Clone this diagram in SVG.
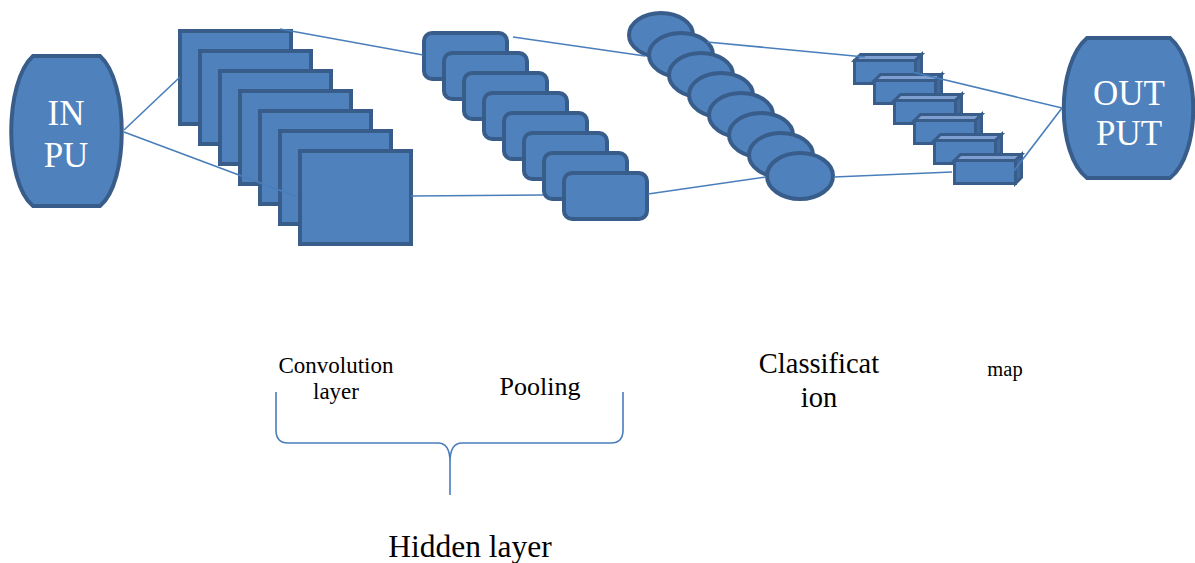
<svg xmlns="http://www.w3.org/2000/svg" width="1195" height="563" viewBox="0 0 1195 563">
<defs>
<style>
.sh{fill:#4F81BD;stroke:#385D8A;stroke-width:4}
.cube{fill:#4F81BD;stroke:#385D8A;stroke-width:3;stroke-linejoin:miter}
.top{fill:#7E9FCF;stroke:#385D8A;stroke-width:3}
.side{fill:#40699E;stroke:#385D8A;stroke-width:3}
.ln{fill:none;stroke:#4A7EBB;stroke-width:1.6}
.wt{fill:#FFFFFF;font-size:35px;text-anchor:middle}
.bt{fill:#000000;text-anchor:middle}
</style>
<g id="cb">
<rect class="cube" x="854.5" y="60.5" width="61" height="23"/>
<polygon class="top" points="854.5,60.5 860.5,54.5 921.5,54.5 915.5,60.5"/>
<polygon class="side" points="915.5,60.5 921.5,54.5 921.5,77.5 915.5,83.5"/>
</g>
</defs>
<rect width="1195" height="563" fill="#FFFFFF"/>

<g id="input">
<path class="sh" d="M33,56 H100 C129,82 129,182 100,206 H33 C4,182 4,82 33,56 Z"/>
<text class="wt" font-family="Liberation Serif, Times New Roman, serif" x="66" y="125">IN</text>
<text class="wt" font-family="Liberation Serif, Times New Roman, serif" x="66" y="167">PU</text>
</g>

<g id="convolution">
<rect class="sh" x="180" y="31" width="111" height="93"/>
<rect class="sh" x="200" y="51" width="111" height="93"/>
<rect class="sh" x="220" y="71" width="111" height="93"/>
<rect class="sh" x="240" y="91" width="111" height="93"/>
<rect class="sh" x="260" y="111" width="111" height="93"/>
<rect class="sh" x="280" y="131" width="111" height="93"/>
<rect class="sh" x="300" y="151" width="111" height="93"/>
</g>

<g id="pooling">
<rect class="sh" x="424" y="33" width="83" height="46" rx="8"/>
<rect class="sh" x="444" y="53" width="83" height="46" rx="8"/>
<rect class="sh" x="464" y="73" width="83" height="46" rx="8"/>
<rect class="sh" x="484" y="93" width="83" height="46" rx="8"/>
<rect class="sh" x="504" y="113" width="83" height="46" rx="8"/>
<rect class="sh" x="524" y="133" width="83" height="46" rx="8"/>
<rect class="sh" x="544" y="153" width="83" height="46" rx="8"/>
<rect class="sh" x="564" y="173" width="83" height="46" rx="8"/>
</g>

<g id="classification">
<ellipse class="sh" cx="661" cy="35" rx="32" ry="22"/>
<ellipse class="sh" cx="681" cy="55" rx="32" ry="22"/>
<ellipse class="sh" cx="701" cy="75" rx="32" ry="22"/>
<ellipse class="sh" cx="721" cy="95" rx="32" ry="22"/>
<ellipse class="sh" cx="741" cy="115" rx="32" ry="22"/>
<ellipse class="sh" cx="761" cy="135" rx="32" ry="22"/>
<ellipse class="sh" cx="781" cy="155" rx="32" ry="22"/>
<ellipse class="sh" cx="800" cy="176" rx="33" ry="23"/>
</g>

<g id="featuremap">
<use href="#cb"/>
<use href="#cb" transform="translate(20,20)"/>
<use href="#cb" transform="translate(40,40)"/>
<use href="#cb" transform="translate(60,60)"/>
<use href="#cb" transform="translate(80,80)"/>
<use href="#cb" transform="translate(100,100)"/>
</g>

<g id="output">
<path class="sh" d="M1087,38 H1170 C1201,64 1201,154 1170,178 H1087 C1056,154 1056,64 1087,38 Z"/>
<text class="wt" font-family="Liberation Serif, Times New Roman, serif" x="1129" y="105">OUT</text>
<text class="wt" font-family="Liberation Serif, Times New Roman, serif" x="1129" y="145">PUT</text>
</g>

<g id="connectors">
<line class="ln" x1="124" y1="130" x2="180" y2="77"/>
<line class="ln" x1="124" y1="132" x2="298" y2="197"/>
<line class="ln" x1="280" y1="29" x2="423" y2="55"/>
<line class="ln" x1="411" y1="196" x2="543" y2="195"/>
<line class="ln" x1="513" y1="37" x2="645" y2="56"/>
<line class="ln" x1="648" y1="194" x2="766" y2="177"/>
<line class="ln" x1="707" y1="42" x2="865" y2="57"/>
<line class="ln" x1="834" y1="177" x2="952" y2="172"/>
<line class="ln" x1="912" y1="72" x2="1062" y2="108"/>
<line class="ln" x1="1013" y1="172" x2="1062" y2="108"/>
</g>

<g id="brace">
<path class="ln" d="M276,392 V430 Q276,443 288,443 H438 Q450,443 450,462 V495 M450,462 Q450,443 462,443 H611 Q623,443 623,430 V392"/>
</g>

<g id="labels" font-family="Liberation Serif, Times New Roman, serif">
<text class="bt" x="336" y="373" font-size="23">Convolution</text>
<text class="bt" x="336" y="399" font-size="23">layer</text>
<text class="bt" x="540" y="395" font-size="26">Pooling</text>
<text class="bt" x="819" y="373" font-size="28.5">Classificat</text>
<text class="bt" x="819" y="407" font-size="28.5">ion</text>
<text class="bt" x="1005" y="376" font-size="20.5">map</text>
<text class="bt" x="470" y="557" font-size="31.5">Hidden layer</text>
</g>
</svg>
